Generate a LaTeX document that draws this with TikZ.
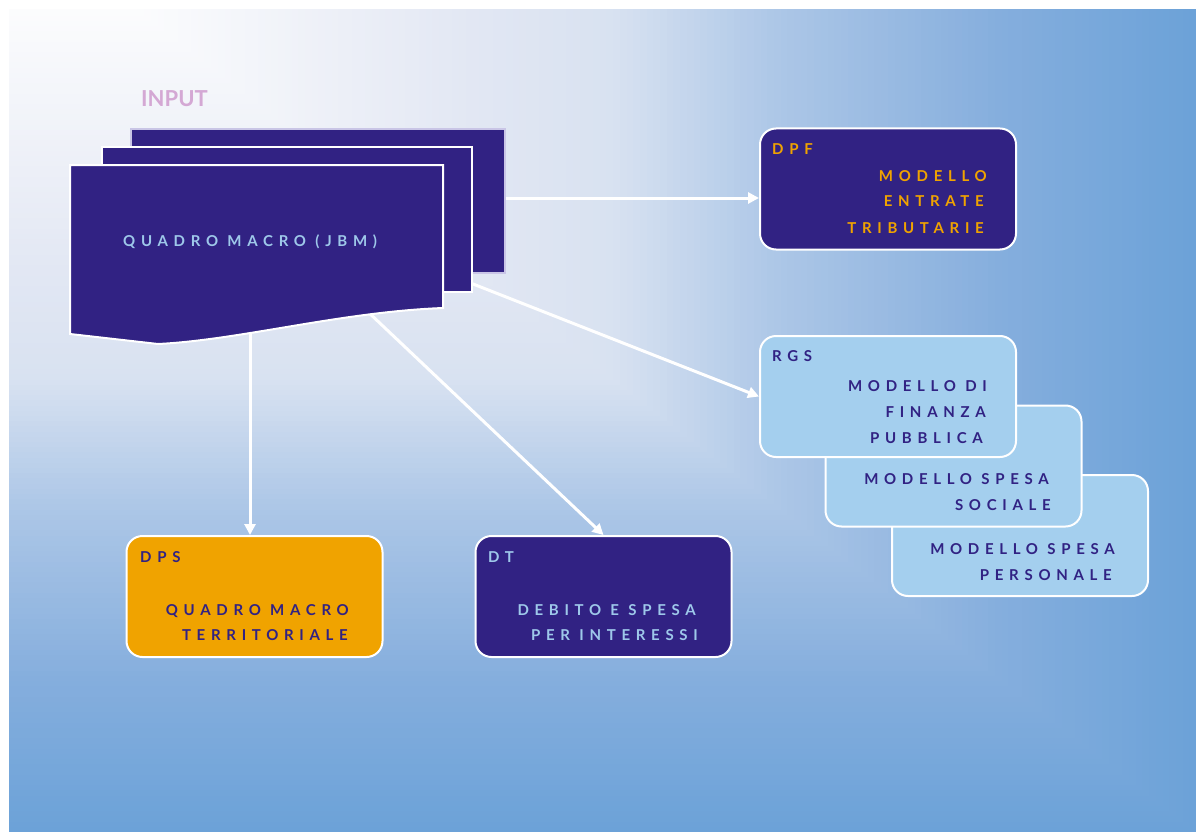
\documentclass[tikz,border=0pt]{standalone}
\usepackage{fontspec}
\setmainfont{Lato}
\newfontfamily\spaced[LetterSpace=38]{Lato}
\usetikzlibrary{arrows.meta}

\definecolor{indigo}{HTML}{312283}
\definecolor{skytext}{HTML}{9EC8EA}
\definecolor{amber}{HTML}{F0A300}
\definecolor{paleblue}{HTML}{A4CFEE}
\definecolor{lilac}{HTML}{D4A8D4}
\definecolor{edgelilac}{HTML}{C9C5E6}
\definecolor{bgA}{HTML}{FDFDFE}
\definecolor{bgB}{HTML}{E2E7F3}
\definecolor{bgC}{HTML}{D8E2F1}
\definecolor{bgD}{HTML}{ADC7E7}
\definecolor{bgE}{HTML}{85AEDD}
\definecolor{bgF}{HTML}{6CA2D8}

% colour of the rectangular wash at parameter #1 (0 = upper left, 1 = far edges)
\newcommand\washcolor[1]{%
  \pgfmathsetmacro\wt{#1}%
  \ifdim\wt pt<0.33pt
    \pgfmathsetmacro\wpct{100*\wt/0.33}\colorlet{wcur}{bgB!\wpct!bgA}%
  \else\ifdim\wt pt<0.46pt
    \pgfmathsetmacro\wpct{100*(\wt-0.33)/0.13}\colorlet{wcur}{bgC!\wpct!bgB}%
  \else\ifdim\wt pt<0.61pt
    \pgfmathsetmacro\wpct{100*(\wt-0.46)/0.15}\colorlet{wcur}{bgD!\wpct!bgC}%
  \else\ifdim\wt pt<0.82pt
    \pgfmathsetmacro\wpct{100*(\wt-0.61)/0.21}\colorlet{wcur}{bgE!\wpct!bgD}%
  \else
    \pgfmathsetmacro\wpct{min(100,100*(\wt-0.82)/0.18)}\colorlet{wcur}{bgF!\wpct!bgE}%
  \fi\fi\fi\fi}

\tikzset{
  box/.style={rectangle, rounded corners=16pt, draw=white, line width=2pt,
    minimum width=256pt, minimum height=121pt, inner sep=0pt},
  lbl/.style={font=\spaced\bfseries\fontsize{15}{17}\selectfont, inner sep=0pt},
  flow/.style={draw=white, line width=3pt, -{Triangle[length=11pt,width=11pt]}},
}

\begin{document}
\begin{tikzpicture}[x=1pt,y=-1pt]
\useasboundingbox (0,0) rectangle (1196,832);

% background: nested rectangles, from the far blue edges in to the pale corner
\begin{scope}
  \clip (9,10) rectangle (1196,832);
  \fill[bgF] (9,10) rectangle (1196,832);
  \foreach \k in {0,...,160}{
    \pgfmathsetmacro\wr{1-\k/160}
    \washcolor{\wr}
    \fill[wcur] (-10,-10) rectangle ({124+\wr*1072},{\wr*832});
  }
\end{scope}

% connector start points on the stacked input sheets
\coordinate (s1) at (500,198);
\coordinate (s2) at (468,282);
\coordinate (s3) at (250,330);
\coordinate (s4) at (366,310);

% output boxes (placed first so connectors can refer to them)
\node[box, fill=paleblue] (rgs3) at (1020,535.5) {};
\node[box, fill=paleblue] (rgs2) at (953.5,466) {};
\node[box, fill=paleblue] (rgs1) at (888,396.5) {};
\node[box, fill=indigo] (dpf) at (888,189) {};
\node[box, fill=amber] (dps) at (254.5,596.5) {};
\node[box, fill=indigo] (dt) at (603.5,596.5) {};

% connectors
\draw[flow] (s1) -- (s1 -| dpf.west);
\draw[flow] (s2) -- (rgs1.west);
\draw[flow] (s3) -- (s3 |- dps.north);
\draw[flow] (s4) -- (dt.north);

% stacked input sheets
\draw[fill=indigo, draw=edgelilac, line width=1.2pt] (131,129) rectangle (505,273);
\draw[fill=indigo, draw=white, line width=1.5pt] (102,147) rectangle (472,292);
\draw[fill=indigo, draw=white, line width=2pt]
  (70,165) -- (443,165) -- (443,308)
  .. controls (340,312) and (240,340) .. (158,344) -- (70,334) -- cycle;

% texts
\node[anchor=base west, inner sep=0pt, text=lilac,
  font=\bfseries\fontsize{22}{24}\selectfont] (inp) at (141,107) {INPUT};
\node[lbl, anchor=base west, text=skytext] (qm) at (123,246) {QUADRO MACRO (JBM)};

\node[lbl, anchor=base west, text=amber] (dpfT) at (772,154) {DPF};
\node[lbl, anchor=base east, text=amber] (dpf1) at (987,181.7) {MODELLO};
\node[lbl, anchor=base east, text=amber] (dpf2) at (984,206.7) {ENTRATE};
\node[lbl, anchor=base east, text=amber] (dpf3) at (984,233) {TRIBUTARIE};

\node[lbl, anchor=base west, text=indigo] (rgsT) at (772,361.7) {RGS};
\node[lbl, anchor=base east, text=indigo] (rgs1a) at (987,391) {MODELLO DI};
\node[lbl, anchor=base east, text=indigo] (rgs1b) at (986,417) {FINANZA};
\node[lbl, anchor=base east, text=indigo] (rgs1c) at (983,443) {PUBBLICA};
\node[lbl, anchor=base east, text=indigo] (rgs2a) at (1049,484) {MODELLO SPESA};
\node[lbl, anchor=base east, text=indigo] (rgs2b) at (1051,510) {SOCIALE};
\node[lbl, anchor=base east, text=indigo] (rgs3a) at (1115,554) {MODELLO SPESA};
\node[lbl, anchor=base east, text=indigo] (rgs3b) at (1112,580) {PERSONALE};

\node[lbl, anchor=base west, text=indigo] (dpsT) at (140,562) {DPS};
\node[lbl, anchor=base east, text=indigo] (dps1) at (349,615) {QUADRO MACRO};
\node[lbl, anchor=base east, text=indigo] (dps2) at (348,640.7) {TERRITORIALE};

\node[lbl, anchor=base west, text=skytext] (dtT) at (488,562) {DT};
\node[lbl, anchor=base east, text=skytext] (dt1) at (696,615) {DEBITO E SPESA};
\node[lbl, anchor=base east, text=skytext] (dt2) at (698,640.7) {PER INTERESSI};
\end{tikzpicture}
\end{document}
